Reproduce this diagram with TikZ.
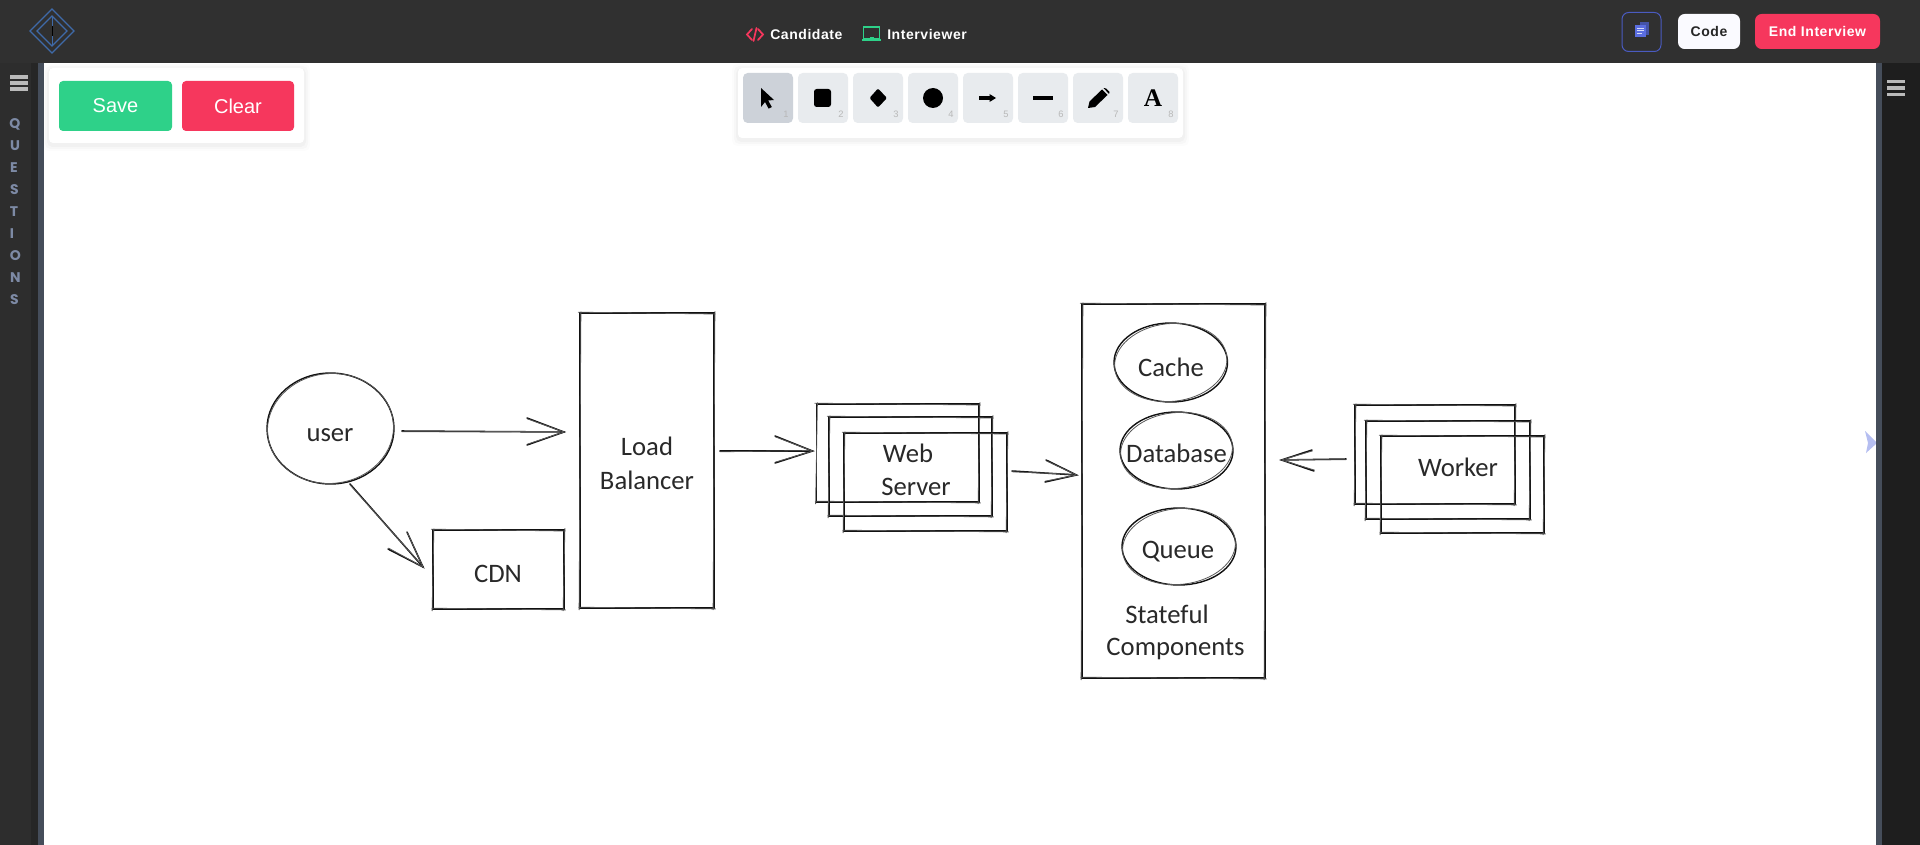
\documentclass[tikz,border=0pt]{standalone}
\usepackage{fontspec}
\usetikzlibrary{shapes.geometric,calc}
\setmainfont{Liberation Sans}
\newfontfamily\handfont{Carlito}
\newfontfamily\popfont{Poppins}
\newfontfamily\uifont[LetterSpace=4]{Liberation Sans}
\newfontfamily\serfont{Liberation Serif}
\definecolor{hdr}{HTML}{303030}
\definecolor{sideA}{HTML}{2D2D2D}
\definecolor{sideB}{HTML}{262626}
\definecolor{sideC}{HTML}{454D5A}
\definecolor{sideD}{HTML}{1E1E1E}
\definecolor{green1}{HTML}{2ED189}
\definecolor{red1}{HTML}{F6375D}
\definecolor{tool}{HTML}{E8EBEE}
\definecolor{toolon}{HTML}{CDD2D9}
\definecolor{qtext}{HTML}{7D8AA5}
\definecolor{ink}{HTML}{111111}
\definecolor{indigo1}{HTML}{4A5BC0}
\definecolor{indigo2}{HTML}{5B6EE0}
\definecolor{logo1}{HTML}{3F6AA8}
\tikzset{
  skline/.style={draw=ink,line width=1.15pt,line cap=round},
  skthin/.style={draw=ink!70,line width=.6pt,line cap=round},
  skrect/.style={rectangle,draw=ink,line width=1.05pt,inner sep=0pt},
  skell/.style={ellipse,draw=ink,line width=1.05pt,inner sep=0pt},
  handtext/.style={inner sep=0pt,text=ink!90,font=\handfont\fontsize{20}{22}\selectfont},
  btn/.style={rectangle,rounded corners=3pt,inner sep=0pt,text=white,font=\fontsize{15}{17}\selectfont},
  topbtn/.style={rectangle,rounded corners=5pt,inner sep=0pt,font=\uifont\bfseries\fontsize{10.5}{12}\selectfont},
  toolbtn/.style={rectangle,rounded corners=3.5pt,inner sep=0pt,fill=tool,minimum width=37.5pt,minimum height=37.5pt},
  toolnum/.style={inner sep=0pt,text=black!28,font=\fontsize{7}{8}\selectfont},
  qletter/.style={inner sep=0pt,text=qtext,font=\popfont\bfseries\fontsize{10.5}{12}\selectfont},
  toptext/.style={inner sep=0pt,text=white,font=\uifont\bfseries\fontsize{10.5}{12}\selectfont},
}
% name, x1, y1, x2, y2
\newcommand{\skbox}[5]{%
  \pgfmathsetlengthmacro{\skw}{(#4-#2)*0.75pt}%
  \pgfmathsetlengthmacro{\skh}{(#5-#3)*0.75pt}%
  \node[skrect,minimum width=\skw,minimum height=\skh] (#1) at ({(#2+#4)/2},{(#3+#5)/2}) {};
  \draw[skthin] (#2-1.8,#3-.8) -- (#4+1.2,#3+1);
  \draw[skthin] (#4+.9,#3-1.6) -- (#4-.9,#5+1.8);
  \draw[skthin] (#4+1.5,#5+.9) -- (#2-1.2,#5-.8);
  \draw[skthin] (#2-.9,#5+1.9) -- (#2+.9,#3-1.2);
}
% name, x1, y1, x2, y2
\newcommand{\skellipse}[5]{%
  \pgfmathsetlengthmacro{\skw}{(#4-#2)*0.75pt}%
  \pgfmathsetlengthmacro{\skh}{(#5-#3)*0.75pt}%
  \node[skell,minimum width=\skw,minimum height=\skh] (#1) at ({(#2+#4)/2},{(#3+#5)/2}) {};
  \draw[skthin] (#1.center) ellipse [x radius={(#4-#2)/2-.4},y radius={(#5-#3)/2-.6},rotate=6];
}
% name, from, to, head end 1, head end 2 (coordinates named beforehand)
\newcommand{\skarrow}[5]{%
  \draw[skline] (#2) -- (#3);
  \draw[skthin] ($(#2)+(0,.8)$) -- ($(#3)+(0,-.5)$);
  \draw[skline] (#4) -- (#3) -- (#5);
  \draw[skthin] ($(#4)+(.5,.9)$) -- (#3) -- ($(#5)+(.5,-.9)$);
}
\begin{document}
\begin{tikzpicture}[x=0.75pt,y=-0.75pt]
\useasboundingbox (0,0) rectangle (1920,845);
\fill[white] (0,0) rectangle (1920,845);
% cursor (runs under the right strip)
\fill[indigo2!45!white] (1865,431) -- (1877,443) -- (1866,453) -- (1868,443) -- cycle;
% chrome
\fill[hdr] (0,0) rectangle (1920,63);
\fill[sideA] (0,63) rectangle (31,845);
\fill[sideB] (31,63) rectangle (38,845);
\fill[sideC] (38,63) rectangle (44,845);
\fill[sideC] (1876,63) rectangle (1882,845);
\fill[sideD] (1882,63) rectangle (1920,845);
% logo
\draw[logo1,line width=.9pt] (52,9) -- (74,31) -- (52,53) -- (30,31) -- cycle;
\draw[logo1,line width=.9pt] (52,16) -- (67,31) -- (52,46) -- (37,31) -- cycle;
\draw[logo1,line width=.7pt] (52,16) -- (52,46);
\draw[black,line width=.7pt] (52,26) -- (52,36);
% hamburgers
\foreach \yy in {75,81,87}{\fill[black!27] (10,\yy) rectangle (28,\yy+4);}
\foreach \yy in {80,86.3,93}{\fill[black!27] (1887,\yy) rectangle (1905,\yy+3.4);}
% vertical QUESTIONS
\node[qletter] (q1) at (15,124) {Q};
\node[qletter] (q2) at (15,145.5) {U};
\node[qletter] (q3) at (14,168) {E};
\node[qletter] (q4) at (14.5,190) {S};
\node[qletter] (q5) at (14,212) {T};
\node[qletter] (q6) at (12,234) {I};
\node[qletter] (q7) at (15.5,256) {O};
\node[qletter] (q8) at (15.5,278) {N};
\node[qletter] (q9) at (14.5,300) {S};
% panels with soft shadow
\foreach \ss/\oo in {6/.012,4/.018,2/.025}{
  \fill[black,opacity=\oo,rounded corners=4pt] (49-\ss,68-\ss+2) rectangle (304+\ss,143+\ss+2);
  \fill[black,opacity=\oo,rounded corners=4pt] (738-\ss,68-\ss+2) rectangle (1183+\ss,138+\ss+2);
}
\fill[white,rounded corners=3pt] (49,68) rectangle (304,143);
\fill[white,rounded corners=3pt] (738,68) rectangle (1183,138);
\node[btn,fill=green1,minimum width=84.75pt,minimum height=37.5pt] (save) at (115.5,106) {Save};
\node[btn,fill=red1,minimum width=84pt,minimum height=37.5pt] (clear) at (238,106) {Clear};
% toolbar
\node[toolbtn,fill=toolon] (t1) at (768,98) {};
\node[toolbtn] (t2) at (823,98) {};
\node[toolbtn] (t3) at (878,98) {};
\node[toolbtn] (t4) at (933,98) {};
\node[toolbtn] (t5) at (988,98) {};
\node[toolbtn] (t6) at (1043,98) {};
\node[toolbtn] (t7) at (1098,98) {};
\node[toolbtn] (t8) at (1153,98) {};
\foreach \i/\xx in {1/786,2/841,3/896,4/951,5/1006,6/1061,7/1116,8/1171}{
  \node[toolnum] (n\i) at (\xx,114) {\i};
}
\fill[black] (761,88) -- (774,100) -- (768.2,100.5) -- (771.8,107) -- (768.6,108.6) -- (765,102) -- (761,107) -- cycle;
\fill[black,rounded corners=2pt] (814,89) rectangle (831,107);
\fill[black,rounded corners=1pt] (878,88.5) -- (887,98) -- (878,107.5) -- (869.5,98) -- cycle;
\fill[black] (933,98) circle [radius=10];
\fill[black] (979,96) rectangle (991,100);
\fill[black] (989.5,94) -- (996,98) -- (989.5,102) -- cycle;
\fill[black] (1033,96) rectangle (1053,100);
\fill[black] (1088,108) -- (1089.5,101.5) -- (1102,89.5) -- (1107.5,95) -- (1095,107) -- cycle;
\fill[black] (1103.5,88) -- (1106,88.5) -- (1109.5,92) -- (1109,94) -- cycle;
\node[inner sep=0pt,text=black,font=\serfont\bfseries\fontsize{19}{22}\selectfont] (afont) at (1153,98.5) {A};
% top centre
\draw[red1,line width=1.3pt,line cap=round] (752,29) -- (747,34.5) -- (752,40);
\draw[red1,line width=1.3pt,line cap=round] (758,29) -- (763,34.5) -- (758,40);
\draw[red1,line width=1.3pt,line cap=round] (756.5,28) -- (753.5,41);
\node[toptext,anchor=west] (cand) at (770,34) {Candidate};
\draw[green1,line width=1pt] (863.5,27) rectangle (879.5,39);
\draw[green1,line width=1.2pt] (862,40.3) -- (881,40.3);
\fill[green1] (870,37.5) rectangle (874,40);
\node[toptext,anchor=west] (intv) at (887,34) {Interviewer};
% top right
\node[rectangle,draw=indigo1,line width=.75pt,rounded corners=5pt,minimum width=29.25pt,minimum height=29.25pt,inner sep=0pt] (notes) at (1641.5,32) {};
\fill[indigo2!75!black] (1640,22) rectangle (1649,35);
\fill[indigo2] (1635,25) rectangle (1646,37);
\fill[white!75!indigo2] (1637,28) rectangle (1644,29);
\fill[white!75!indigo2] (1637,30.5) rectangle (1644,31.5);
\fill[white!75!indigo2] (1637,33) rectangle (1641.5,34);
\node[topbtn,fill=black!2!blue!2!white,text=black!85,minimum width=46.5pt,minimum height=26.25pt] (code) at (1709,31.5) {Code};
\node[topbtn,fill=red1,text=white,minimum width=93.75pt,minimum height=26.25pt] (endi) at (1817.5,31.5) {End Interview};

% ---------- sketch ----------
\skellipse{user}{267}{373}{394}{484}
\skbox{lb}{580}{313}{714}{608}
\skbox{cdn}{433}{530}{564}{609}
\skbox{ws1}{816.5}{404}{979}{502}
\skbox{ws2}{829}{417}{992}{516}
\skbox{ws3}{844}{433}{1007}{531}
\skbox{state}{1082}{304}{1265}{678}
\skellipse{cache}{1114}{323}{1227.5}{402}
\skellipse{db}{1120}{412}{1233}{489}
\skellipse{queue}{1122}{508}{1236}{585}
\skbox{w1}{1355}{405}{1515}{504}
\skbox{w2}{1366}{421}{1530}{519}
\skbox{w3}{1381}{436}{1544}{533}

\node[handtext] (tuser) at (330,435) {user};
\node[handtext] (tload) at (647,446) {Load};
\node[handtext] (tbal) at (647,480) {Balancer};
\node[handtext] (tcdn) at (498,574) {CDN};
\node[handtext] (tweb) at (908,453) {Web};
\node[handtext] (tserver) at (916,487) {Server};
\node[handtext] (tcache) at (1171,367) {Cache};
\node[handtext] (tdb) at (1176.5,453) {Database};
\node[handtext] (tqueue) at (1178,551.5) {Queue};
\node[handtext] (tstate) at (1167,614) {Stateful};
\node[handtext] (tcomp) at (1175.5,648.5) {Components};
\node[handtext] (twork) at (1458,467) {Worker};

\coordinate (a1s) at (402,431); \coordinate (a1e) at (564,432);
\coordinate (a1h) at (527,418); \coordinate (a1k) at (527,445);
\coordinate (a2s) at (350,484); \coordinate (a2e) at (423,567);
\coordinate (a2h) at (407,532); \coordinate (a2k) at (388,549);
\coordinate (a3s) at (720,451); \coordinate (a3e) at (812.5,451);
\coordinate (a3h) at (775,436); \coordinate (a3k) at (775,463);
\coordinate (a4s) at (1012,471); \coordinate (a4e) at (1076.5,475);
\coordinate (a4h) at (1046,460); \coordinate (a4k) at (1045,482);
\coordinate (a5s) at (1346,459); \coordinate (a5e) at (1281.5,460);
\coordinate (a5h) at (1312,450); \coordinate (a5k) at (1314,471);
\skarrow{a1}{a1s}{a1e}{a1h}{a1k}
\skarrow{a2}{a2s}{a2e}{a2h}{a2k}
\skarrow{a3}{a3s}{a3e}{a3h}{a3k}
\skarrow{a4}{a4s}{a4e}{a4h}{a4k}
\skarrow{a5}{a5s}{a5e}{a5h}{a5k}
\end{tikzpicture}
\end{document}
